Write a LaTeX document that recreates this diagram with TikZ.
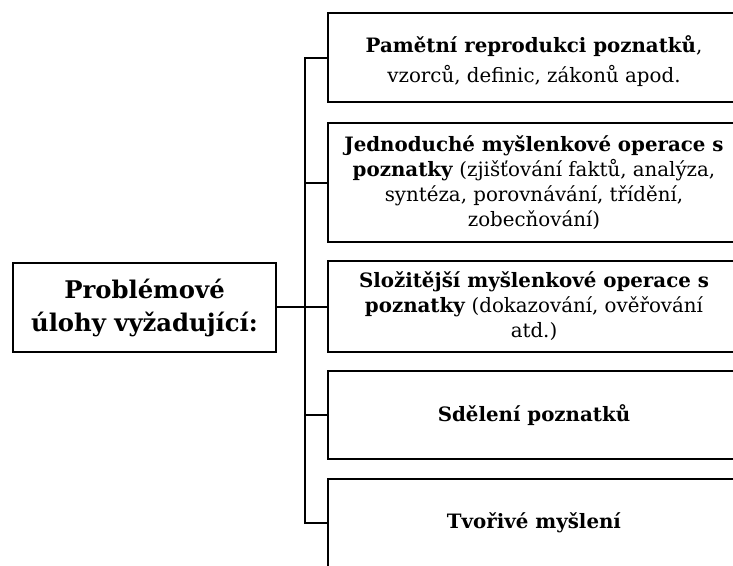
\documentclass[tikz,border=0pt]{standalone}
\usepackage{fontspec}
\setmainfont{DejaVu Serif}
\begin{document}
\begin{tikzpicture}[x=1pt,y=-1pt,
  box/.style={draw,line width=2.5pt,minimum width=412pt,minimum height=89pt,inner sep=0pt,align=center,font=\fontsize{19.8}{25}\selectfont},
  boxtext/.style={inner sep=0pt,align=center,font=\fontsize{19.8}{30}\selectfont},
  lbox/.style={draw,line width=2.5pt,minimum width=263pt,minimum height=89pt,inner sep=0pt,align=center,font=\bfseries\fontsize{24.3}{33}\selectfont},
  conn/.style={line width=2pt}]
\useasboundingbox (0,0) rectangle (733,565);
\clip (0,0) rectangle (733,565);
\node[lbox] (L) at (144.5,307.5) {Problémové\\úlohy vyžadující:};
\node[box] (B1) at (534,57.5) {};
\node[boxtext] (B1t) at (534,61.5) {\textbf{Pamětní reprodukci poznatků},\\vzorců, definic, zákonů apod.};
\node[box,minimum height=119pt] (B2) at (534,182.5) {\textbf{Jednoduché myšlenkové operace s}\\\textbf{poznatky} (zjišťování faktů, analýza,\\syntéza, porovnávání, třídění,\\zobecňování)};
\node[box,minimum height=91pt] (B3) at (534,306.5) {\textbf{Složitější myšlenkové operace s}\\\textbf{poznatky} (dokazování, ověřování\\atd.)};
\node[box,minimum height=88pt] (B4) at (534,415) {\textbf{Sdělení poznatků}};
\node[box,minimum height=88pt] (B5) at (534,523) {\textbf{Tvořivé myšlení}};
\coordinate (sp) at (305,0);
\draw[conn] (B1.west) -- (B1.west -| sp) -- (B5.west -| sp) -- (B5.west);
\draw[conn] (B2.west) -- (B2.west -| sp);
\draw[conn] (B4.west) -- (B4.west -| sp);
\draw[conn] (L.east |- B3.west) -- (B3.west);
\end{tikzpicture}
\end{document}
